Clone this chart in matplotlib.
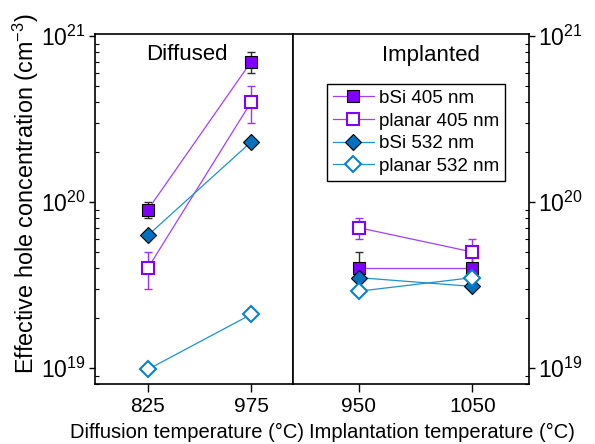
import numpy as np
import matplotlib.pyplot as plt
from matplotlib.ticker import LogLocator, LogFormatterMathtext, NullFormatter

plt.rcParams['font.family'] = 'Liberation Sans'
plt.rcParams['mathtext.fontset'] = 'custom'
plt.rcParams['mathtext.rm'] = 'Liberation Sans'
plt.rcParams['mathtext.it'] = 'Liberation Sans:italic'
plt.rcParams['mathtext.bf'] = 'Liberation Sans:bold'
plt.rcParams['mathtext.default'] = 'regular'

# diffused samples
diff_temp = [825, 975]
diff_bsi405 = [9e19, 7e20]
diff_bsi405_err = [1e19, 1e20]
diff_pl405 = [4e19, 4e20]
diff_pl405_err = [1e19, 1e20]
diff_bsi532 = [6.3e19, 2.3e20]
diff_pl532 = [9.8e18, 2.1e19]

# implanted samples
impl_temp = [950, 1050]
impl_bsi405 = [4e19, 4e19]
impl_bsi405_err = [1e19, 1e19]
impl_pl405 = [7e19, 5e19]
impl_pl405_err = [1e19, 1e19]
impl_bsi532 = [3.5e19, 3.1e19]
impl_pl532 = [2.9e19, 3.5e19]

labels = ['bSi 405 nm', 'planar 405 nm', 'bSi 532 nm', 'planar 532 nm']

purple = '#7F00FF'
purple_line = '#A040FF'
blue = '#0070C0'
blue_line = '#2090D0'
blue_edge = '#0A80D0'

fig = plt.figure(figsize=(5.95, 4.44), dpi=100)
W, H = 595, 444
bot = 1 - 384 / H
top = 1 - 34 / H
ax1 = fig.add_axes([95 / W, bot, (293 - 95) / W, top - bot])
ax2 = fig.add_axes([293 / W, bot, (529 - 293) / W, top - bot])


def draw(ax, x, bsi405, bsi405_err, pl405, pl405_err, bsi532, pl532):
    ax.errorbar(x, bsi405, yerr=bsi405_err, fmt='none', ecolor='#303030',
                elinewidth=1, capsize=3, capthick=1, zorder=2)
    ax.errorbar(x, pl405, yerr=pl405_err, fmt='none', ecolor='#9933FF',
                elinewidth=1, capsize=3, capthick=1, zorder=2)
    h1, = ax.plot(x, bsi405, color=purple_line, lw=0.9, marker='s', ms=8.5,
                  mfc=purple, mec='black', mew=0.8, zorder=3)
    h2, = ax.plot(x, pl405, color=purple_line, lw=0.9, marker='s', ms=8.5,
                  mfc='white', mec=purple, mew=1.5, zorder=3)
    h3, = ax.plot(x, bsi532, color=blue_line, lw=0.9, marker='D', ms=8,
                  mfc=blue, mec='black', mew=0.8, zorder=3)
    h4, = ax.plot(x, pl532, color=blue_line, lw=0.9, marker='D', ms=8,
                  mfc='white', mec=blue_edge, mew=1.5, zorder=3)
    return [h1, h2, h3, h4]


draw(ax1, diff_temp, diff_bsi405, diff_bsi405_err, diff_pl405, diff_pl405_err,
     diff_bsi532, diff_pl532)
handles = draw(ax2, impl_temp, impl_bsi405, impl_bsi405_err, impl_pl405,
               impl_pl405_err, impl_bsi532, impl_pl532)

for ax in (ax1, ax2):
    ax.set_yscale('log')
    ax.set_ylim(8e18, 1.03e21)
    ax.yaxis.set_major_locator(LogLocator(base=10))
    ax.yaxis.set_minor_locator(LogLocator(base=10, subs=np.arange(2, 10)))
    ax.yaxis.set_minor_formatter(NullFormatter())
    ax.yaxis.set_major_formatter(LogFormatterMathtext())
    ax.tick_params(axis='x', which='major', direction='out', length=6,
                   width=1, labelsize=15, pad=3)
    ax.tick_params(axis='y', which='major', direction='out', length=4.5,
                   width=1, labelsize=16.5, pad=2)
    ax.tick_params(axis='y', which='minor', direction='in', length=3, width=0.8)
    for s in ax.spines.values():
        s.set_linewidth(1.2)

ax1.set_xlim(748, 1036)
ax1.set_xticks(diff_temp)
ax2.set_xlim(892, 1100)
ax2.set_xticks(impl_temp)
ax2.yaxis.tick_right()
ax2.tick_params(axis='y', which='both', left=False)

ax1.text(0.465, 0.94, 'Diffused', transform=ax1.transAxes, fontsize=16,
         ha='center', va='center')
ax2.text(0.585, 0.94, 'Implanted', transform=ax2.transAxes, fontsize=16,
         ha='center', va='center')

leg = ax2.legend(handles, labels, loc='upper left',
                 bbox_to_anchor=(0.144, 0.857), fontsize=13.5, frameon=True,
                 fancybox=False, edgecolor='black', framealpha=1,
                 handlelength=2.2, handletextpad=0.3, labelspacing=0.3,
                 borderpad=0.3, borderaxespad=0)
leg.get_frame().set_linewidth(1)

fig.text(187 / W, 1 - 432 / H, 'Diffusion temperature (\u00b0C)',
         fontsize=14.5, ha='center', va='center')
fig.text(442 / W, 1 - 432 / H, 'Implantation temperature (\u00b0C)',
         fontsize=14.5, ha='center', va='center')
fig.text(26 / W, 1 - 194 / H, 'Effective hole concentration (cm$^{-3}$)',
         fontsize=16.8, rotation=90, ha='center', va='center')

fig.savefig('out.png', dpi=100)
